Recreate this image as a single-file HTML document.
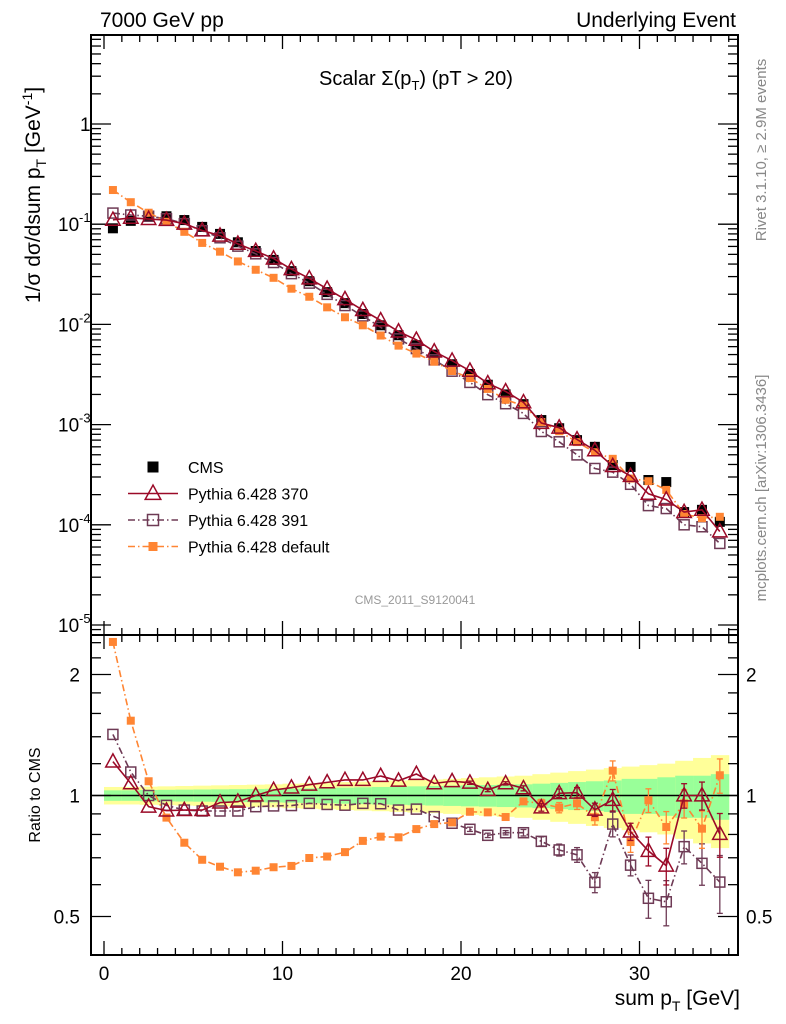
<!DOCTYPE html>
<html><head><meta charset="utf-8"><style>
html,body{margin:0;padding:0;background:#fff}
svg{display:block;font-family:"Liberation Sans",sans-serif}
</style></head><body>
<svg id="c" width="786" height="1024" viewBox="0 0 786 1024">
<g id="bands"></g>
<g id="axes"></g>
<g id="series"></g>
<text x="100" y="27" font-size="21">7000 GeV pp</text>
<text x="736" y="27" font-size="21" text-anchor="end">Underlying Event</text>
<text x="416" y="85" font-size="20" text-anchor="middle">Scalar Σ(p<tspan font-size="13" dy="5">T</tspan><tspan dy="-5">) (pT &gt; 20)</tspan></text>
<text x="415" y="604" font-size="12" fill="#999" text-anchor="middle">CMS_2011_S9120041</text>
<text transform="translate(766,150) rotate(-90)" font-size="15" fill="#888" text-anchor="middle">Rivet 3.1.10, ≥ 2.9M events</text>
<text transform="translate(766,488) rotate(-90)" font-size="15" fill="#888" text-anchor="middle">mcplots.cern.ch [arXiv:1306.3436]</text>
<text transform="translate(40,195) rotate(-90)" font-size="21" text-anchor="middle">1/σ dσ/dsum p<tspan font-size="14" dy="6">T</tspan><tspan dy="-6"> [GeV</tspan><tspan font-size="14" dy="-8">-1</tspan><tspan dy="8">]</tspan></text>
<text transform="translate(40,795) rotate(-90)" font-size="16" text-anchor="middle">Ratio to CMS</text>
<text x="740" y="1005" font-size="21" text-anchor="end">sum p<tspan font-size="14" dy="6">T</tspan><tspan dy="-6"> [GeV]</tspan></text>
<g id="legend"></g>
</svg>
<script>
const xCenters=[0.5,1.5,2.5,3.5,4.5,5.5,6.5,7.5,8.5,9.5,10.5,11.5,12.5,13.5,14.5,15.5,16.5,17.5,18.5,19.5,20.5,21.5,22.5,23.5,24.5,25.5,26.5,27.5,28.5,29.5,30.5,31.5,32.5,33.5,34.5];
const cmsValues=[0.091,0.108,0.12,0.12,0.11,0.094,0.08,0.066,0.054,0.044,0.034,0.027,0.021,0.0163,0.0127,0.0098,0.0078,0.0062,0.005,0.004,0.0032,0.0025,0.002,0.0016,0.00111,0.00092,0.0007,0.0006,0.000395,0.000378,0.00028,0.000267,0.000134,0.000141,0.000107];
const ratio370=[1.214,1.072,0.938,0.917,0.920,0.920,0.960,0.965,1.0,1.032,1.046,1.064,1.078,1.093,1.093,1.118,1.088,1.131,1.072,1.085,1.076,1.032,1.072,1.042,0.934,1.013,1.016,0.922,0.975,0.813,0.728,0.669,1.0,1.0,0.802];
const ratio391=[1.419,1.144,1.0,0.945,0.920,0.915,0.915,0.915,0.938,0.942,0.944,0.956,0.950,0.946,0.956,0.954,0.920,0.925,0.886,0.853,0.824,0.796,0.808,0.808,0.769,0.732,0.712,0.608,0.849,0.671,0.555,0.544,0.746,0.678,0.609];
const ratioDefault=[2.41,1.535,1.085,0.881,0.763,0.692,0.665,0.644,0.650,0.663,0.668,0.699,0.705,0.723,0.771,0.790,0.787,0.825,0.849,0.857,0.911,0.908,0.884,0.967,0.956,0.933,0.956,0.883,1.153,0.766,0.973,0.835,0.956,0.827,1.123];
const ratioErr=[0,0,0,0,0,0,0,0,0,0,0,0,0,0,0,0,0,0,0,0,0.01,0.01,0.01,0.015,0.02,0.025,0.03,0.035,0.06,0.04,0.06,0.07,0.07,0.08,0.1];
const bandGreen=[0.03,0.03,0.032,0.033,0.034,0.035,0.036,0.037,0.038,0.039,0.04,0.042,0.044,0.046,0.048,0.05,0.052,0.054,0.056,0.058,0.06,0.062,0.064,0.066,0.07,0.075,0.08,0.085,0.09,0.1,0.1,0.11,0.12,0.12,0.13];
const bandYellow=[0.05,0.05,0.052,0.054,0.056,0.058,0.06,0.062,0.064,0.066,0.07,0.073,0.076,0.08,0.083,0.086,0.09,0.093,0.096,0.1,0.105,0.11,0.115,0.12,0.13,0.14,0.15,0.16,0.17,0.18,0.19,0.2,0.22,0.24,0.26];
const mainTickLabels=["1","10","10","10","10","10"];
const mainTickExp=["","-1","-2","-3","-4","-5"];
const xTickLabels=["0","10","20","30"];
const ratioTickLabels=["2","1","0.5"];
const ratioTickValues=[2,1,0.5];

const NS="http://www.w3.org/2000/svg";
const L=91,R=738,T=35,MB=635,RB=955;
const X=v=>104+17.85*v;
const Y=v=>124-100.2*Math.log10(v);
const RY=r=>795.5-121*Math.log2(r);
function mk(tag,attrs,parent){const e=document.createElementNS(NS,tag);for(const k in attrs)e.setAttribute(k,attrs[k]);parent.appendChild(e);return e;}
const ax=document.getElementById('axes'),se=document.getElementById('series'),bd=document.getElementById('bands'),lg=document.getElementById('legend');
const RCLIP=v=>Math.max(RY(2.6),Math.min(RB,v));

xCenters.forEach((c,i)=>{
 const x0=X(c-0.5),x1=X(c+0.5);
 let r=mk('rect',{x:x0,y:RY(1+bandYellow[i]),width:x1-x0+0.5,height:RY(1-bandYellow[i])-RY(1+bandYellow[i]),fill:'#ffff99'},bd);
 
 
 let g=mk('rect',{x:x0,y:RY(1+bandGreen[i]),width:x1-x0+0.5,height:RY(1-bandGreen[i])-RY(1+bandGreen[i]),fill:'#99ff99'},bd);
 
 
});
mk('line',{x1:L,x2:R,y1:RY(1),y2:RY(1),stroke:'#000','stroke-width':1.5},ax);

mk('rect',{x:L,y:T,width:R-L,height:MB-T,fill:'none',stroke:'#000','stroke-width':2},ax);
mk('rect',{x:L,y:MB,width:R-L,height:RB-MB,fill:'none',stroke:'#000','stroke-width':2},ax);
for(let v=0;v<=35;v++){
 const maj=v%10===0,len=maj?14:7,x=X(v);
 [[T,1],[MB,-1],[MB,1],[RB,-1]].forEach(([y0,d])=>mk('line',{x1:x,x2:x,y1:y0,y2:y0+d*len,stroke:'#000','stroke-width':1.3},ax));
}
xTickLabels.forEach((t,i)=>{const e=mk('text',{x:X(i*10),y:980,'font-size':19,'text-anchor':'middle'},ax);e.textContent=t;
 
 });
for(let d=-6;d<=1;d++){
 for(let m=1;m<10;m++){const v=m*Math.pow(10,d),y=Y(v);if(y<T||y>MB)continue;
  const len=m===1?20:10;
  mk('line',{x1:L,x2:L+len,y1:y,y2:y,stroke:'#000','stroke-width':1.3},ax);
  mk('line',{x1:R,x2:R-len,y1:y,y2:y,stroke:'#000','stroke-width':1.3},ax);}
}
mainTickLabels.forEach((t,i)=>{const y=Y(Math.pow(10,-i));
 const e=mk('text',{x:i===0?80:58,y:y+7,'font-size':19},ax);e.textContent=t;
 
 
 if(mainTickExp[i]){const s=mk('text',{x:79,y:y-2,'font-size':13},ax);s.textContent=mainTickExp[i];}});
for(let m=4;m<=25;m++){const v=m/10;if(v>1&&m%2)continue;const y=RY(v);if(y<MB||y>RB)continue;
 const len=(v===0.5||v===1||v===2)?20:10;
 mk('line',{x1:L,x2:L+len,y1:y,y2:y,stroke:'#000','stroke-width':1.3},ax);
 mk('line',{x1:R,x2:R-len,y1:y,y2:y,stroke:'#000','stroke-width':1.3},ax);}
ratioTickLabels.forEach((t,i)=>{const y=RY(ratioTickValues[i])+7;
 let e=mk('text',{x:80,y:y,'font-size':19,'text-anchor':'end'},ax);e.textContent=t;
 
 
 let f=mk('text',{x:746,y:y,'font-size':19},ax);f.textContent=t;
 
 });

const red='#9b0a28',pur='#6e3a55',ora='#ff8533';
function marker(type,x,y,col,p,s){
 if(type==='fsq')return mk('rect',{x:x-s/2,y:y-s/2,width:s,height:s,fill:col},p);
 if(type==='osq')return mk('rect',{x:x-s/2,y:y-s/2,width:s,height:s,fill:'none',stroke:col,'stroke-width':1.5},p);
 return mk('polygon',{points:`${x},${y-s*0.65} ${x-s*0.6},${y+s*0.45} ${x+s*0.6},${y+s*0.45}`,fill:'none',stroke:col,'stroke-width':1.5},p);
}
const cg=mk('g',{},se);
xCenters.forEach((c,i)=>{const m=marker('fsq',X(c),Y(cmsValues[i]),'#000',cg,10);
 
 });
const defs=[['pythia-391',ratio391,pur,'osq','7,3,1.5,3',10],['pythia-default',ratioDefault,ora,'fsq','7,3,1.5,3',8],['pythia-370',ratio370,red,'tri','',12]];
defs.forEach(([name,rat,col,type,dash,s])=>{
 const g=mk('g',{},se);
 const mp=xCenters.map((c,i)=>[X(c),Y(cmsValues[i]*rat[i])]);
 const rp=xCenters.map((c,i)=>[X(c),RY(rat[i])]);
 const l1=mk('polyline',{points:mp.map(p=>p.join(',')).join(' '),fill:'none',stroke:col,'stroke-width':1.6,'stroke-dasharray':dash},g);
 
 const l2=mk('polyline',{points:rp.map(p=>p.join(',')).join(' '),fill:'none',stroke:col,'stroke-width':1.6,'stroke-dasharray':dash},g);
 
 xCenters.forEach((c,i)=>{
  const e=ratioErr[i]*(type==='fsq'?1.1:1);
  if(e>0){const x=X(c);mk('line',{x1:x,x2:x,y1:RCLIP(RY(rat[i]+e)),y2:RCLIP(RY(rat[i]-e)),stroke:col,'stroke-width':1.3},g);
   mk('line',{x1:x-3,x2:x+3,y1:RY(rat[i]+e),y2:RY(rat[i]+e),stroke:col,'stroke-width':1.3},g);
   mk('line',{x1:x-3,x2:x+3,y1:RY(rat[i]-e),y2:RY(rat[i]-e),stroke:col,'stroke-width':1.3},g);}
  const a=marker(type,mp[i][0],mp[i][1],col,g,s);
  
  
  const b=marker(type,rp[i][0],rp[i][1],col,g,s);
  
  
 });
});

const legItems=[['CMS','#000','fsq','',11],['Pythia 6.428 370',red,'tri','',13],['Pythia 6.428 391',pur,'osq','7,3,1.5,3',11],['Pythia 6.428 default',ora,'fsq','7,3,1.5,3',9]];
legItems.forEach(([t,col,type,dash,s],i)=>{
 const y=467+i*26.5;
 const g=mk('g',{},lg);
 
 
 if(i>0)mk('line',{x1:128,x2:178,y1:y,y2:y,stroke:col,'stroke-width':1.6,'stroke-dasharray':dash},g);
 marker(type,153,y,col,g,s);
 const e=mk('text',{x:188,y:y+6,'font-size':16},g);e.textContent=t;
});
</script>
</body></html>
